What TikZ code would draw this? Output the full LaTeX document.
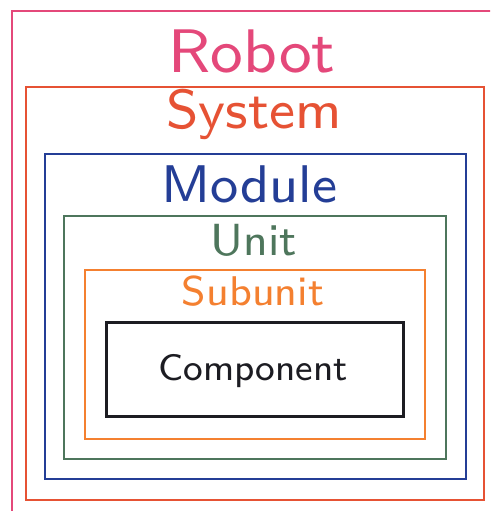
\documentclass[tikz,border=0pt]{standalone}
\usepackage{fontspec}
\newfontfamily\labelfont{lmsans8-regular.otf}
\definecolor{robotc}{RGB}{228,72,122}
\definecolor{systemc}{RGB}{230,82,52}
\definecolor{modulec}{RGB}{36,62,150}
\definecolor{unitc}{RGB}{78,118,92}
\definecolor{subunitc}{RGB}{244,128,48}
\definecolor{compc}{RGB}{28,28,34}
\begin{document}
\begin{tikzpicture}[x=1pt,y=-1pt,
  frame/.style={line width=2.5pt},
  lbl/.style={anchor=base, inner sep=0pt}]
\useasboundingbox (0,0) rectangle (490,511);
\clip (0,0) rectangle (490,511);
% nested frames, outermost first
\draw[frame, robotc, line width=2.2pt] (12,11) rectangle (530,560);
\draw[frame, systemc] (26,87) rectangle (484,500);
\draw[frame, modulec] (45,154) rectangle (466,479);
\draw[frame, unitc] (64,216) rectangle (446,459);
\draw[frame, subunitc] (85,270) rectangle (425,439);
\draw[frame, compc, line width=3pt] (106,322) rectangle (403,416);
% level labels
\node[lbl, text=robotc, font=\labelfont\fontsize{61.5}{61.5}\selectfont] (robot) at (252,72) {Robot};
\node[lbl, text=systemc, font=\labelfont\fontsize{55}{55}\selectfont] (system) at (254,128) {System};
\node[lbl, text=modulec, font=\labelfont\fontsize{53}{53}\selectfont] (module) at (249.5,202) {Module};
\node[lbl, text=unitc, font=\labelfont\fontsize{45}{45}\selectfont] (unit) at (254,255) {Unit};
\node[lbl, text=subunitc, font=\labelfont\fontsize{41.5}{41.5}\selectfont] (subunit) at (253,305) {Subunit};
\node[lbl, text=compc, font=\labelfont\fontsize{37}{37}\selectfont] (component) at (253,380) {Component};
\end{tikzpicture}
\end{document}
